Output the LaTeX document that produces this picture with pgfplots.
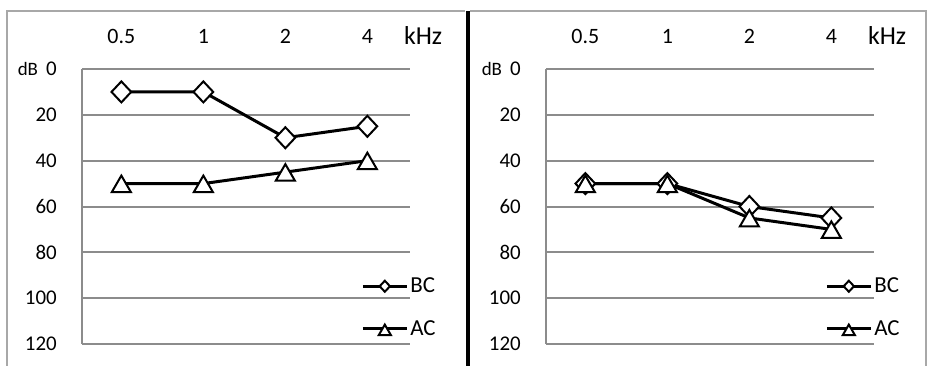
\documentclass[border=0pt]{standalone}
\usepackage{pgfplots}
\pgfplotsset{compat=1.18}
\usepackage{fontspec}
\setmainfont{Carlito}
\definecolor{gridgray}{HTML}{8C8C8C}
\definecolor{framegray}{HTML}{A8A8A8}

\pgfplotsset{
 audiogram/.style={
  scale only axis, width=328bp, height=275bp,
  xmin=-0.48, xmax=3.52, ymin=0, ymax=120, y dir=reverse,
  axis line style={draw=none},
  xtick={0,1,2,3}, xticklabels={0.5,1,2,4},
  xticklabel pos=upper,
  extra x ticks={-0.48}, extra x tick labels={},
  extra x tick style={xmajorgrids=true, grid style={draw=gridgray, line width=2bp}},
  ytick={0,20,...,120},
  major tick length=0pt,
  ymajorgrids, grid style={draw=gridgray, line width=2bp},
  /pgf/number format/assume math mode=true,
  xticklabel style={font=\fontsize{22}{24}\selectfont, anchor=center, inner sep=0pt, yshift=33bp},
  yticklabel style={font=\fontsize{21}{24}\selectfont, anchor=east, inner sep=0pt, xshift=-25bp},
  legend style={draw=none, fill=none, at={(0.851,0.133)}, anchor=west,
    font=\fontsize{23}{26}\selectfont, row sep=22bp, inner sep=0pt,
    nodes={inner sep=2bp}},
  legend cell align=left,
  clip=false,
 },
 bc/.style={black, line width=3bp, mark=diamond*, mark size=10.5bp,
   mark options={fill=white, line width=2bp, xscale=1.25},
   legend image code/.code={\draw[mark repeat=2,mark phase=2,mark size=5.5bp]
     plot coordinates {(0bp,0bp) (22bp,0bp) (44bp,0bp)};}},
 ac/.style={black, line width=3bp, mark=triangle*, mark size=11bp,
   mark options={fill=white, line width=2bp, yshift=-3bp},
   legend image code/.code={\draw[mark repeat=2,mark phase=2,mark size=7bp]
     plot coordinates {(0bp,0bp) (22bp,0bp) (44bp,0bp)};}},
}

\begin{document}
\begin{tikzpicture}
\useasboundingbox (0,0) rectangle (929bp,366bp);
\fill[white] (0,0) rectangle (929bp,366bp);

\begin{axis}[audiogram, at={(82bp,297bp)}, anchor=north west]
\addplot[bc] coordinates {(0,10) (1,10) (2,30) (3,25)};
\addlegendentry{BC}
\addplot[ac] coordinates {(0,50) (1,50) (2,45) (3,40)};
\addlegendentry{AC}
\node[font=\fontsize{26}{30}\selectfont] at (axis description cs:1.04,1.12) {kHz};
\node[font=\fontsize{19}{22}\selectfont] at (axis description cs:-0.165,1.0) {dB};
\end{axis}

\begin{axis}[audiogram, at={(546bp,297bp)}, anchor=north west]
\addplot[bc] coordinates {(0,50) (1,50) (2,60) (3,65)};
\addlegendentry{BC}
\addplot[ac] coordinates {(0,50) (1,50) (2,65) (3,70)};
\addlegendentry{AC}
\node[font=\fontsize{26}{30}\selectfont] at (axis description cs:1.04,1.12) {kHz};
\node[font=\fontsize{19}{22}\selectfont] at (axis description cs:-0.165,1.0) {dB};
\end{axis}

\draw[framegray, line width=1.2bp] (7bp,0) -- (7bp,355bp) -- (465bp,355bp);
\draw[framegray, line width=1.2bp] (470bp,355bp) -- (926bp,355bp) -- (926bp,0);
\draw[black, line width=4bp] (467.5bp,0) -- (467.5bp,355bp);
\end{tikzpicture}
\end{document}
